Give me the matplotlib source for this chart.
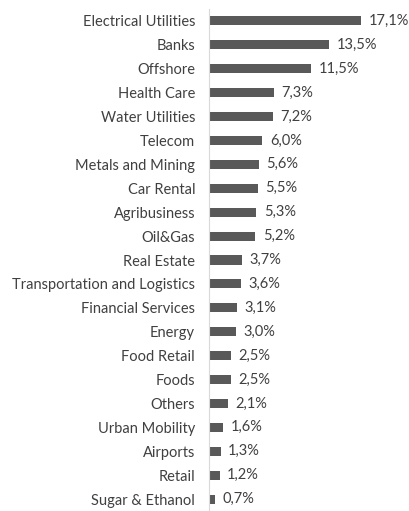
import matplotlib.pyplot as plt

sectors = ['Electrical Utilities', 'Banks', 'Offshore', 'Health Care', 'Water Utilities',
           'Telecom', 'Metals and Mining', 'Car Rental', 'Agribusiness', 'Oil&Gas',
           'Real Estate', 'Transportation and Logistics', 'Financial Services', 'Energy',
           'Food Retail', 'Foods', 'Others', 'Urban Mobility', 'Airports', 'Retail',
           'Sugar & Ethanol']
shares = [17.1, 13.5, 11.5, 7.3, 7.2, 6.0, 5.6, 5.5, 5.3, 5.2, 3.7, 3.6, 3.1, 3.0,
          2.5, 2.5, 2.1, 1.6, 1.3, 1.2, 0.7]

plt.rcParams['font.family'] = ['Lato', 'DejaVu Sans']
txt = '#404040'

fig = plt.figure(figsize=(4.09, 5.11), dpi=100)
ax = fig.add_axes([209 / 409, 0, 191 / 409, 1 - 9 / 511])

pos = list(range(len(sectors)))
ax.barh(pos, shares, height=0.38, color='#595959')
for p, v in zip(pos, shares):
    ax.text(v + 0.85, p, f'{v:.1f}%'.replace('.', ','), va='center', ha='left',
            fontsize=10.5, color=txt)

ax.set_yticks(pos)
ax.set_yticklabels(sectors, fontsize=10.5, color=txt)
ax.tick_params(axis='y', length=0, pad=10)
ax.set_xticks([])
ax.set_xlim(0, 191 / 8.9)
ax.set_ylim(len(sectors) - 0.5, -0.5)
for s in ['top', 'right', 'bottom']:
    ax.spines[s].set_visible(False)
ax.spines['left'].set_color('#d9d9d9')
ax.spines['left'].set_linewidth(0.8)

fig.savefig('out.png', dpi=100)
